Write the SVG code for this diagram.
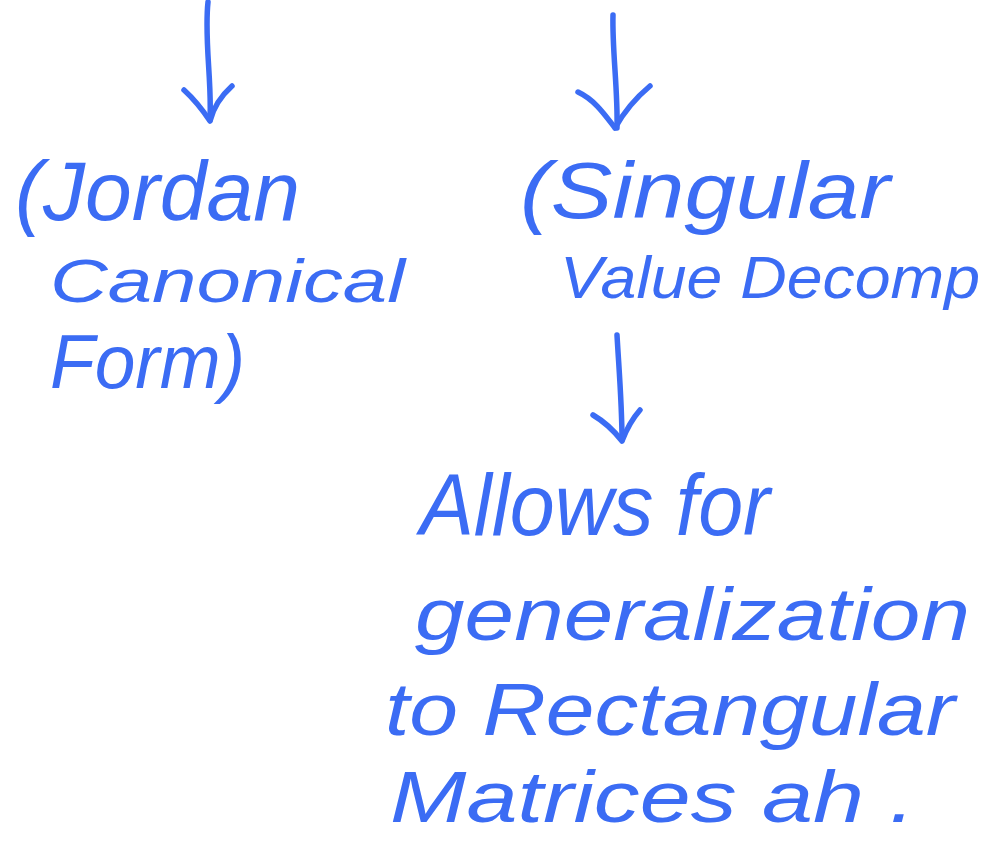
<svg xmlns="http://www.w3.org/2000/svg" width="1001" height="841" viewBox="0 0 1001 841">
<style>
.ink{fill:none;stroke:#3b6cf4;stroke-width:5.5;stroke-linecap:round;stroke-linejoin:round}
.t{fill:#3b6cf4;font-family:"Liberation Sans","DejaVu Sans",sans-serif;font-style:italic}
</style>
<rect width="1001" height="841" fill="#ffffff"/>
<g id="connectors">
<path class="ink" d="M208,2 C204,40 212,80 210,120"/>
<path class="ink" d="M184,90 C195,100 204,112 210,121 C214,105 222,95 232,86"/>
<path class="ink" d="M613,15 C612,50 618,90 617,128"/>
<path class="ink" d="M578,92 C595,100 605,115 615,128 C625,110 638,96 650,86"/>
<path class="ink" d="M617,335 C619,370 622,405 622,440"/>
<path class="ink" d="M593,415 C605,422 615,432 622,441 C627,428 633,418 640,410"/>
</g>
<g id="jordan">
<text class="t" x="15" y="220" font-size="84" textLength="285" lengthAdjust="spacingAndGlyphs">(Jordan</text>
<text class="t" x="50" y="302" font-size="62" textLength="355" lengthAdjust="spacingAndGlyphs">Canonical</text>
<text class="t" x="50" y="388" font-size="76" textLength="195" lengthAdjust="spacingAndGlyphs">Form)</text>
</g>
<g id="svd">
<text class="t" x="520" y="218" font-size="80" textLength="370" lengthAdjust="spacingAndGlyphs">(Singular</text>
<text class="t" x="560" y="298" font-size="60" textLength="420" lengthAdjust="spacingAndGlyphs">Value Decomp</text>
</g>
<g id="allows">
<text class="t" x="420" y="535" font-size="88" textLength="350" lengthAdjust="spacingAndGlyphs">Allows for</text>
<text class="t" x="415" y="640" font-size="74" textLength="555" lengthAdjust="spacingAndGlyphs">generalization</text>
<text class="t" x="385" y="735" font-size="74" textLength="570" lengthAdjust="spacingAndGlyphs">to Rectangular</text>
<text class="t" x="390" y="822" font-size="72" textLength="525" lengthAdjust="spacingAndGlyphs">Matrices ah .</text>
</g>
</svg>
